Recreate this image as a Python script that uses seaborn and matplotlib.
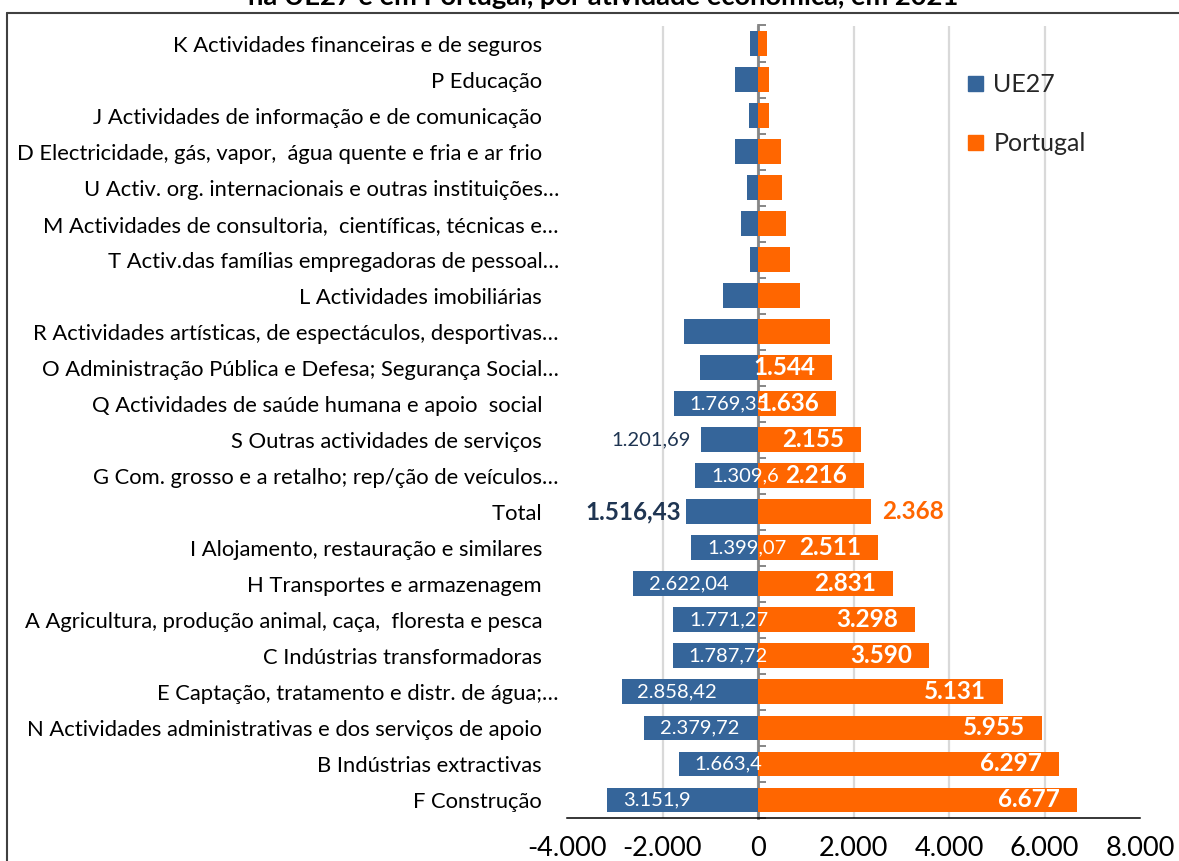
import numpy as np
import pandas as pd
import matplotlib
matplotlib.use("Agg")
import matplotlib.pyplot as plt
from matplotlib.lines import Line2D
from matplotlib.ticker import FuncFormatter
import seaborn as sns

# ---------------------------------------------------------------- data
categories = [
    "K Actividades financeiras e de seguros",
    "P Educação",
    "J Actividades de informação e de comunicação",
    "D Electricidade, gás, vapor,  água quente e fria e ar frio",
    "U Activ. org. internacionais e outras instituições…",
    "M Actividades de consultoria,  científicas, técnicas e…",
    "T Activ.das famílias empregadoras de pessoal…",
    "L Actividades imobiliárias",
    "R Actividades artísticas, de espectáculos, desportivas…",
    "O Administração Pública e Defesa; Segurança Social…",
    "Q Actividades de saúde humana e apoio  social",
    "S Outras actividades de serviços",
    "G Com. grosso e a retalho; rep/ção de veículos…",
    "Total",
    "I Alojamento, restauração e similares",
    "H Transportes e armazenagem",
    "A Agricultura, produção animal, caça,  floresta e pesca",
    "C Indústrias transformadoras",
    "E Captação, tratamento e distr. de água;…",
    "N Actividades administrativas e dos serviços de apoio",
    "B Indústrias extractivas",
    "F Construção",
]
ue27 = [178, 492, 192, 485, 227, 346, 171, 729, 1546, 1211,
        1769.35, 1201.69, 1309.6, 1516.43, 1399.07, 2622.04,
        1771.27, 1787.72, 2858.42, 2379.72, 1663.4, 3151.9]
portugal = [184, 227, 234, 492, 506, 583, 660, 890, 1505, 1544,
            1636, 2155, 2216, 2368, 2511, 2831,
            3298, 3590, 5131, 5955, 6297, 6677]
ue27_labelled = [False] * 10 + [True] * 12
portugal_labelled = [False] * 9 + [True] * 13
series_names = ["UE27", "Portugal"]
x_ticks = [-4000, -2000, 0, 2000, 4000, 6000, 8000]
title_line = "na UE27 e em Portugal, por atividade económica, em 2021"

# ---------------------------------------------------------------- style
BLUE = "#35659A"
ORANGE = "#FF6600"
NAVY = "#1F3552"
GRID = "#D9D9D9"
AXIS_GREY = "#868686"

sns.set_style("white")
plt.rcParams["font.family"] = ["Lato", "DejaVu Sans"]

W, H = 1179, 861
fig = plt.figure(figsize=(W / 100, H / 100), dpi=100)
ax = fig.add_axes([567 / W, 1 - 818 / H, 573 / W, 792.5 / H])

# UE27 is drawn to the left of zero, Portugal to the right
df = pd.DataFrame({
    "categoria": categories * 2,
    "serie": [series_names[0]] * len(categories) + [series_names[1]] * len(categories),
    "valor": [-v for v in ue27] + list(portugal),
})

sns.barplot(data=df, x="valor", y="categoria", hue="serie",
            order=categories, hue_order=series_names,
            palette={series_names[0]: BLUE, series_names[1]: ORANGE},
            dodge=False, width=0.69, saturation=1, linewidth=0,
            legend=False, ax=ax)

x_min, x_max = x_ticks[0], x_ticks[-1]
ax.set_xlim(x_min, x_max)
ax.set_xlabel("")
ax.set_ylabel("")


def pt_number(v, max_decimals=2):
    s = f"{v:,.{max_decimals}f}"
    if max_decimals:
        s = s.rstrip("0").rstrip(".")
    return s.replace(",", "#").replace(".", ",").replace("#", ".")


# gridlines only at the interior ticks
for t in x_ticks[1:-1]:
    ax.axvline(t, color=GRID, lw=1.6, zorder=0)

ax.set_xticks(x_ticks)
ax.xaxis.set_major_formatter(FuncFormatter(lambda v, _: pt_number(v, 0)))
ax.tick_params(axis="x", length=7, width=1.1, color="black",
               labelsize=19.5, pad=6, labelcolor="black")

# category names: full names sit a little further from the axis than the
# truncated ones, which end with an ellipsis
ax.set_yticks(range(len(categories)))
ax.set_yticklabels([c if c.endswith("…") else c + "   " for c in categories])
ax.tick_params(axis="y", length=0, labelsize=15.8, pad=5.8, labelcolor="black")

for side in ("top", "right", "left"):
    ax.spines[side].set_visible(False)
ax.spines["bottom"].set_color("black")
ax.spines["bottom"].set_linewidth(1.1)

# vertical axis at zero with ticks between categories
zero_axis = ax.secondary_yaxis((0 - x_min) / (x_max - x_min))
zero_axis.set_yticks(np.arange(-0.5, len(categories)))
zero_axis.tick_params(axis="y", direction="in", length=6, width=1.4,
                      color=AXIS_GREY, labelleft=False, labelright=False)
zero_axis.spines["left"].set_color(AXIS_GREY)
zero_axis.spines["left"].set_linewidth(2)

# ---------------------------------------------------------------- value labels
ue_bars, pt_bars = ax.containers[0], ax.containers[1]
outside_ue = {"S Outras actividades de serviços", "Total"}

for cat, v, show, bar in zip(categories, ue27, ue27_labelled, ue_bars):
    if not show:
        continue
    yc = bar.get_y() + bar.get_height() / 2
    left = min(bar.get_x(), bar.get_x() + bar.get_width())
    txt = pt_number(v)
    if cat == "Total":
        ax.annotate(txt, (left, yc), xytext=(-3, 0), textcoords="offset points",
                    ha="right", va="center", color=NAVY, fontsize=17.5,
                    fontweight="bold")
    elif cat in outside_ue:
        ax.annotate(txt, (left, yc), xytext=(-7, 0), textcoords="offset points",
                    ha="right", va="center", color=NAVY, fontsize=14.5)
    else:
        ax.annotate(txt, (left, yc), xytext=(11.5, 0), textcoords="offset points",
                    ha="left", va="center", color="white", fontsize=14.5)

for cat, v, show, bar in zip(categories, portugal, portugal_labelled, pt_bars):
    if not show:
        continue
    yc = bar.get_y() + bar.get_height() / 2
    right = max(bar.get_x(), bar.get_x() + bar.get_width())
    txt = pt_number(v, 0)
    if cat == "Total":
        ax.annotate(txt, (right, yc), xytext=(8, 0), textcoords="offset points",
                    ha="left", va="center", color=ORANGE, fontsize=17.5,
                    fontweight="bold")
    else:
        ax.annotate(txt, (right, yc), xytext=(-12.2, 0), textcoords="offset points",
                    ha="right", va="center", color="white", fontsize=17.5,
                    fontweight="bold")

# ---------------------------------------------------------------- legend
handles = [Line2D([], [], marker="s", ls="", color=c, markersize=10.8)
           for c in (BLUE, ORANGE)]
ax.legend(handles, series_names, loc="upper left", bbox_to_anchor=(0.694, 0.94),
          frameon=False, fontsize=18, handlelength=0.8, handletextpad=0.35,
          labelspacing=1.42, borderpad=0, borderaxespad=0)

# ---------------------------------------------------------------- frame and title
frame_kw = dict(transform=fig.transFigure, color="#404040", lw=1.5)
fig.add_artist(Line2D([7 / W, 1], [1 - 13 / H, 1 - 13 / H], **frame_kw))
fig.add_artist(Line2D([7 / W, 7 / W], [0, 1 - 13 / H], **frame_kw))
fig.text(603 / W, 1 - 5 / H, title_line, ha="center", va="baseline",
         fontsize=19.7, fontweight="bold", color="black")

fig.savefig("out.png", dpi=100)
